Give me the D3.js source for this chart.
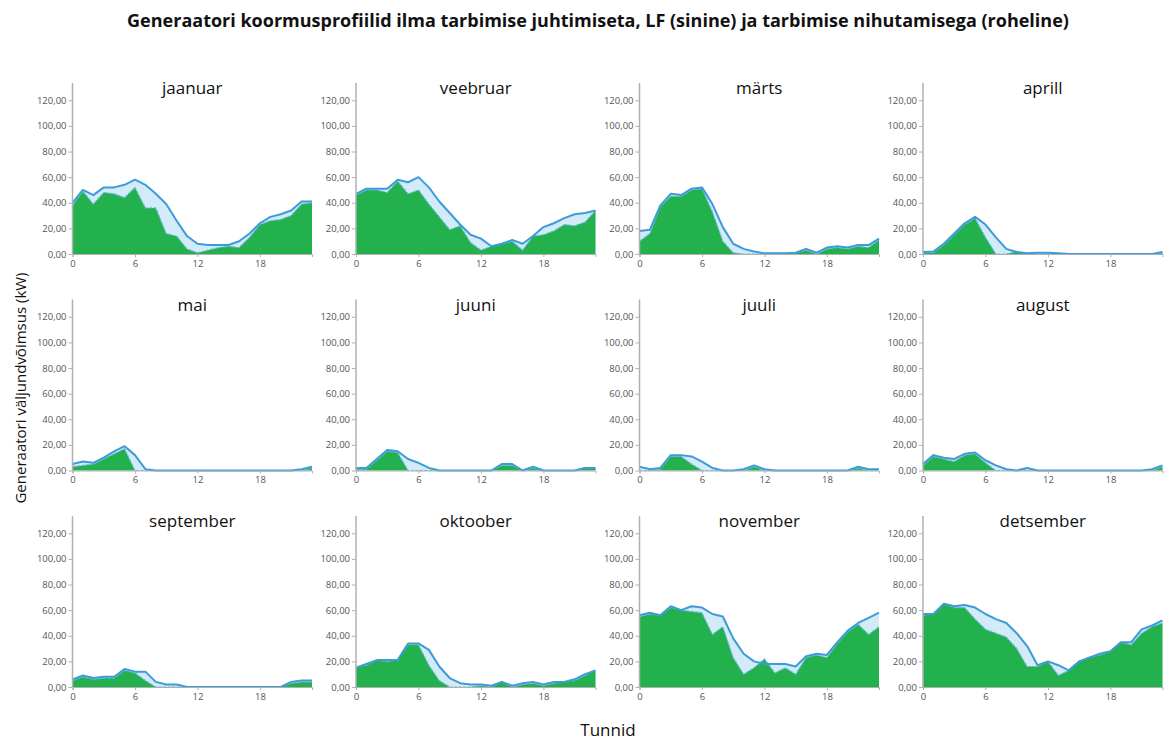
<!DOCTYPE html>
<html>
<head>
<meta charset="utf-8">
<script src="https://cdn.jsdelivr.net/npm/d3@7"></script>
<style>
  html, body { margin: 0; padding: 0; background: #fff; }
  svg { display: block; }
  text { font-family: "Open Sans", "Noto Sans", sans-serif; }
</style>
</head>
<body>
<svg id="chart" width="1170" height="740"></svg>
<script>
// Hourly generator load profiles (kW) per month
const months = ["jaanuar", "veebruar", "märts", "aprill", "mai", "juuni",
                "juuli", "august", "september", "oktoober", "november", "detsember"];
const hours = [0,1,2,3,4,5,6,7,8,9,10,11,12,13,14,15,16,17,18,19,20,21,22,23];
const xTicks = [0, 6, 12, 18];
const yTicks = [0, 20, 40, 60, 80, 100, 120];

// Without demand management (blue line, light fill)
const baseLoad = [
  [40,50,46,52,52,54,58,54,47,39,26,14,8,7,7,7,10,16,24,29,31,34,41,41],
  [47,51,51,51,58,56,60,52,41,32,23,15,12,6,8,11,8,14,21,24,28,31,32,34],
  [18,19,38,47,46,51,52,39,21,8,4,2,0.5,0.5,0.5,1,4,1,5,6,5,7,7,12],
  [1.5,2,8,16,24,29,23,13,4,1.5,0.5,1,1,0.5,0,0,0,0,0,0,0,0,0,1.5],
  [5,7,6,10,15,19,12,1,0,0,0,0,0,0,0,0,0,0,0,0,0,0,1,3],
  [2,2,9,16,15,9,6,2,0,0,0,0,0,0,5,5,0,3,0,0,0,0,2,2],
  [3,1,2,12,12,11,7,2,0,0,1,4,1,0,0,0,0,0,0,0,0,3,1,1],
  [5,12,10,9,13,14,8,4,1,0,2,0,0,0,0,0,0,0,0,0,0,0,1,4],
  [6,9,7,8,8,14,12,12,4,2,2,0,0,0,0,0,0,0,0,0,0,4,5,5],
  [15,18,21,21,21,34,34,29,16,7,3,2,2,1,4,1,3,4,2,4,4,6,10,13],
  [56,58,56,63,60,63,62,57,55,38,26,20,18,18,18,16,24,26,25,35,44,50,54,58],
  [57,57,65,63,64,62,57,53,50,42,32,17,20,17,13,20,23,26,28,35,35,45,48,52]
];

// With load shifting (green area)
const shiftedLoad = [
  [38,49,39,48,47,44,52,36,36,16,14,4,1,3,5,6,5,13,23,26,27,30,39,40],
  [46,50,50,48,57,47,50,39,29,19,22,9,3,6,8,10,3,14,15,18,23,22,25,34],
  [10,16,37,45,45,50,51,33,10,1,0,0,0,0,0,1,3,0,4,5,4,6,5,11],
  [1,1,7,15,23,28,13,0,0,2,0,0,0,0,0,0,0,0,0,0,0,0,0,1],
  [3,4,5,9,13,17,0,0,0,0,0,0,0,0,0,0,0,0,0,0,0,0,0,2],
  [1,1,8,15,14,0,0,0,0,0,0,0,0,0,4,4,0,2,0,0,0,0,2,2],
  [0,0,1,11,11,5,0,0,0,0,0,3,0,0,0,0,0,0,0,0,0,2,0,0],
  [4,11,9,7,12,13,6,0,0,0,0,0,0,0,0,0,0,0,0,0,0,0,0,3],
  [5,8,6,7,7,13,11,5,0,0,0,0,0,0,0,0,0,0,0,0,0,3,4,4],
  [15,17,21,20,21,33,33,17,5,0,0,0,1,0,4,0,2,3,1,3,4,5,9,13],
  [55,57,56,62,60,59,58,41,47,23,10,15,22,11,15,10,23,25,23,34,43,49,41,47],
  [56,57,65,62,62,53,45,42,39,30,16,16,20,9,13,20,23,25,28,35,33,42,47,50]
];

const svg = d3.select("#chart");
const fmt = v => d3.format(".2f")(v).replace(".", ",");

// Grid of small multiples
const colLeft = 72.5, colStep = 283.5, plotW = 239.5;
const rowBase = 254, rowStep = 216.5, axisH = 171;

svg.append("text")
  .attr("x", 598).attr("y", 27)
  .attr("text-anchor", "middle")
  .attr("font-size", 18).attr("font-weight", 700)
  .attr("fill", "#111")
  .text("Generaatori koormusprofiilid ilma tarbimise juhtimiseta, LF (sinine) ja tarbimise nihutamisega (roheline)");

svg.append("text")
  .attr("transform", "translate(26,388) rotate(-90)")
  .attr("text-anchor", "middle")
  .attr("font-size", 15)
  .attr("fill", "#111")
  .text("Generaatori väljundvõimsus (kW)");

svg.append("text")
  .attr("x", 608).attr("y", 736)
  .attr("text-anchor", "middle")
  .attr("font-size", 17)
  .attr("fill", "#111")
  .text("Tunnid");

months.forEach((name, i) => {
  const col = i % 4, row = Math.floor(i / 4);
  const x0 = colLeft + col * colStep;
  const y0 = rowBase + row * rowStep;

  const x = d3.scaleLinear().domain([0, 23]).range([x0, x0 + plotW]);
  const y = d3.scaleLinear().domain([0, 133.5]).range([y0, y0 - axisH]);

  const g = svg.append("g");

  const base = hours.map((h, k) => ({ h, v: baseLoad[i][k] }));
  const shifted = hours.map((h, k) => ({ h, v: shiftedLoad[i][k] }));

  const area = d3.area().x(d => x(d.h)).y0(y(0)).y1(d => y(d.v));
  const line = d3.line().x(d => x(d.h)).y(d => y(d.v));

  g.append("path").datum(base)
    .attr("d", area)
    .attr("fill", "#d3ebf7");

  g.append("path").datum(shifted)
    .attr("d", area)
    .attr("fill", "#22b14c");

  g.append("path").datum(shifted)
    .attr("d", line)
    .attr("fill", "none")
    .attr("stroke", "#6cb9e2")
    .attr("stroke-width", 1.2)
    .attr("stroke-dasharray", "3,1.5");

  g.append("path").datum(base)
    .attr("d", line)
    .attr("fill", "none")
    .attr("stroke", "#3c9bd8")
    .attr("stroke-width", 2)
    .attr("stroke-linejoin", "round");

  // Axes
  const yAxis = d3.axisLeft(y).tickValues(yTicks).tickFormat(fmt).tickSize(4).tickPadding(2);
  const yg = g.append("g").attr("transform", `translate(${x0},0)`).call(yAxis);
  yg.select(".domain").attr("d", `M0,${y0}V${y0 - axisH}`).attr("stroke", "#b0b0b0").attr("stroke-width", 1.5);
  yg.selectAll(".tick line").attr("stroke", "#b0b0b0");
  yg.selectAll(".tick text").attr("font-size", 9.5).attr("fill", "#555")
    .attr("font-family", "'Open Sans', sans-serif");

  const xAxis = d3.axisBottom(x).tickValues(xTicks).tickFormat(d3.format("d")).tickSize(3).tickPadding(3);
  const xg = g.append("g").attr("transform", `translate(0,${y0})`).call(xAxis);
  xg.select(".domain").attr("stroke", "#b0b0b0").attr("stroke-width", 1);
  xg.selectAll(".tick line").attr("stroke", "#b0b0b0");
  xg.selectAll(".tick text").attr("font-size", 9.5).attr("fill", "#555")
    .attr("font-family", "'Open Sans', sans-serif");

  g.append("text")
    .attr("x", x0 + plotW / 2)
    .attr("y", y0 - 160)
    .attr("text-anchor", "middle")
    .attr("font-size", 17)
    .attr("fill", "#111")
    .text(name);
});
</script>
</body>
</html>
